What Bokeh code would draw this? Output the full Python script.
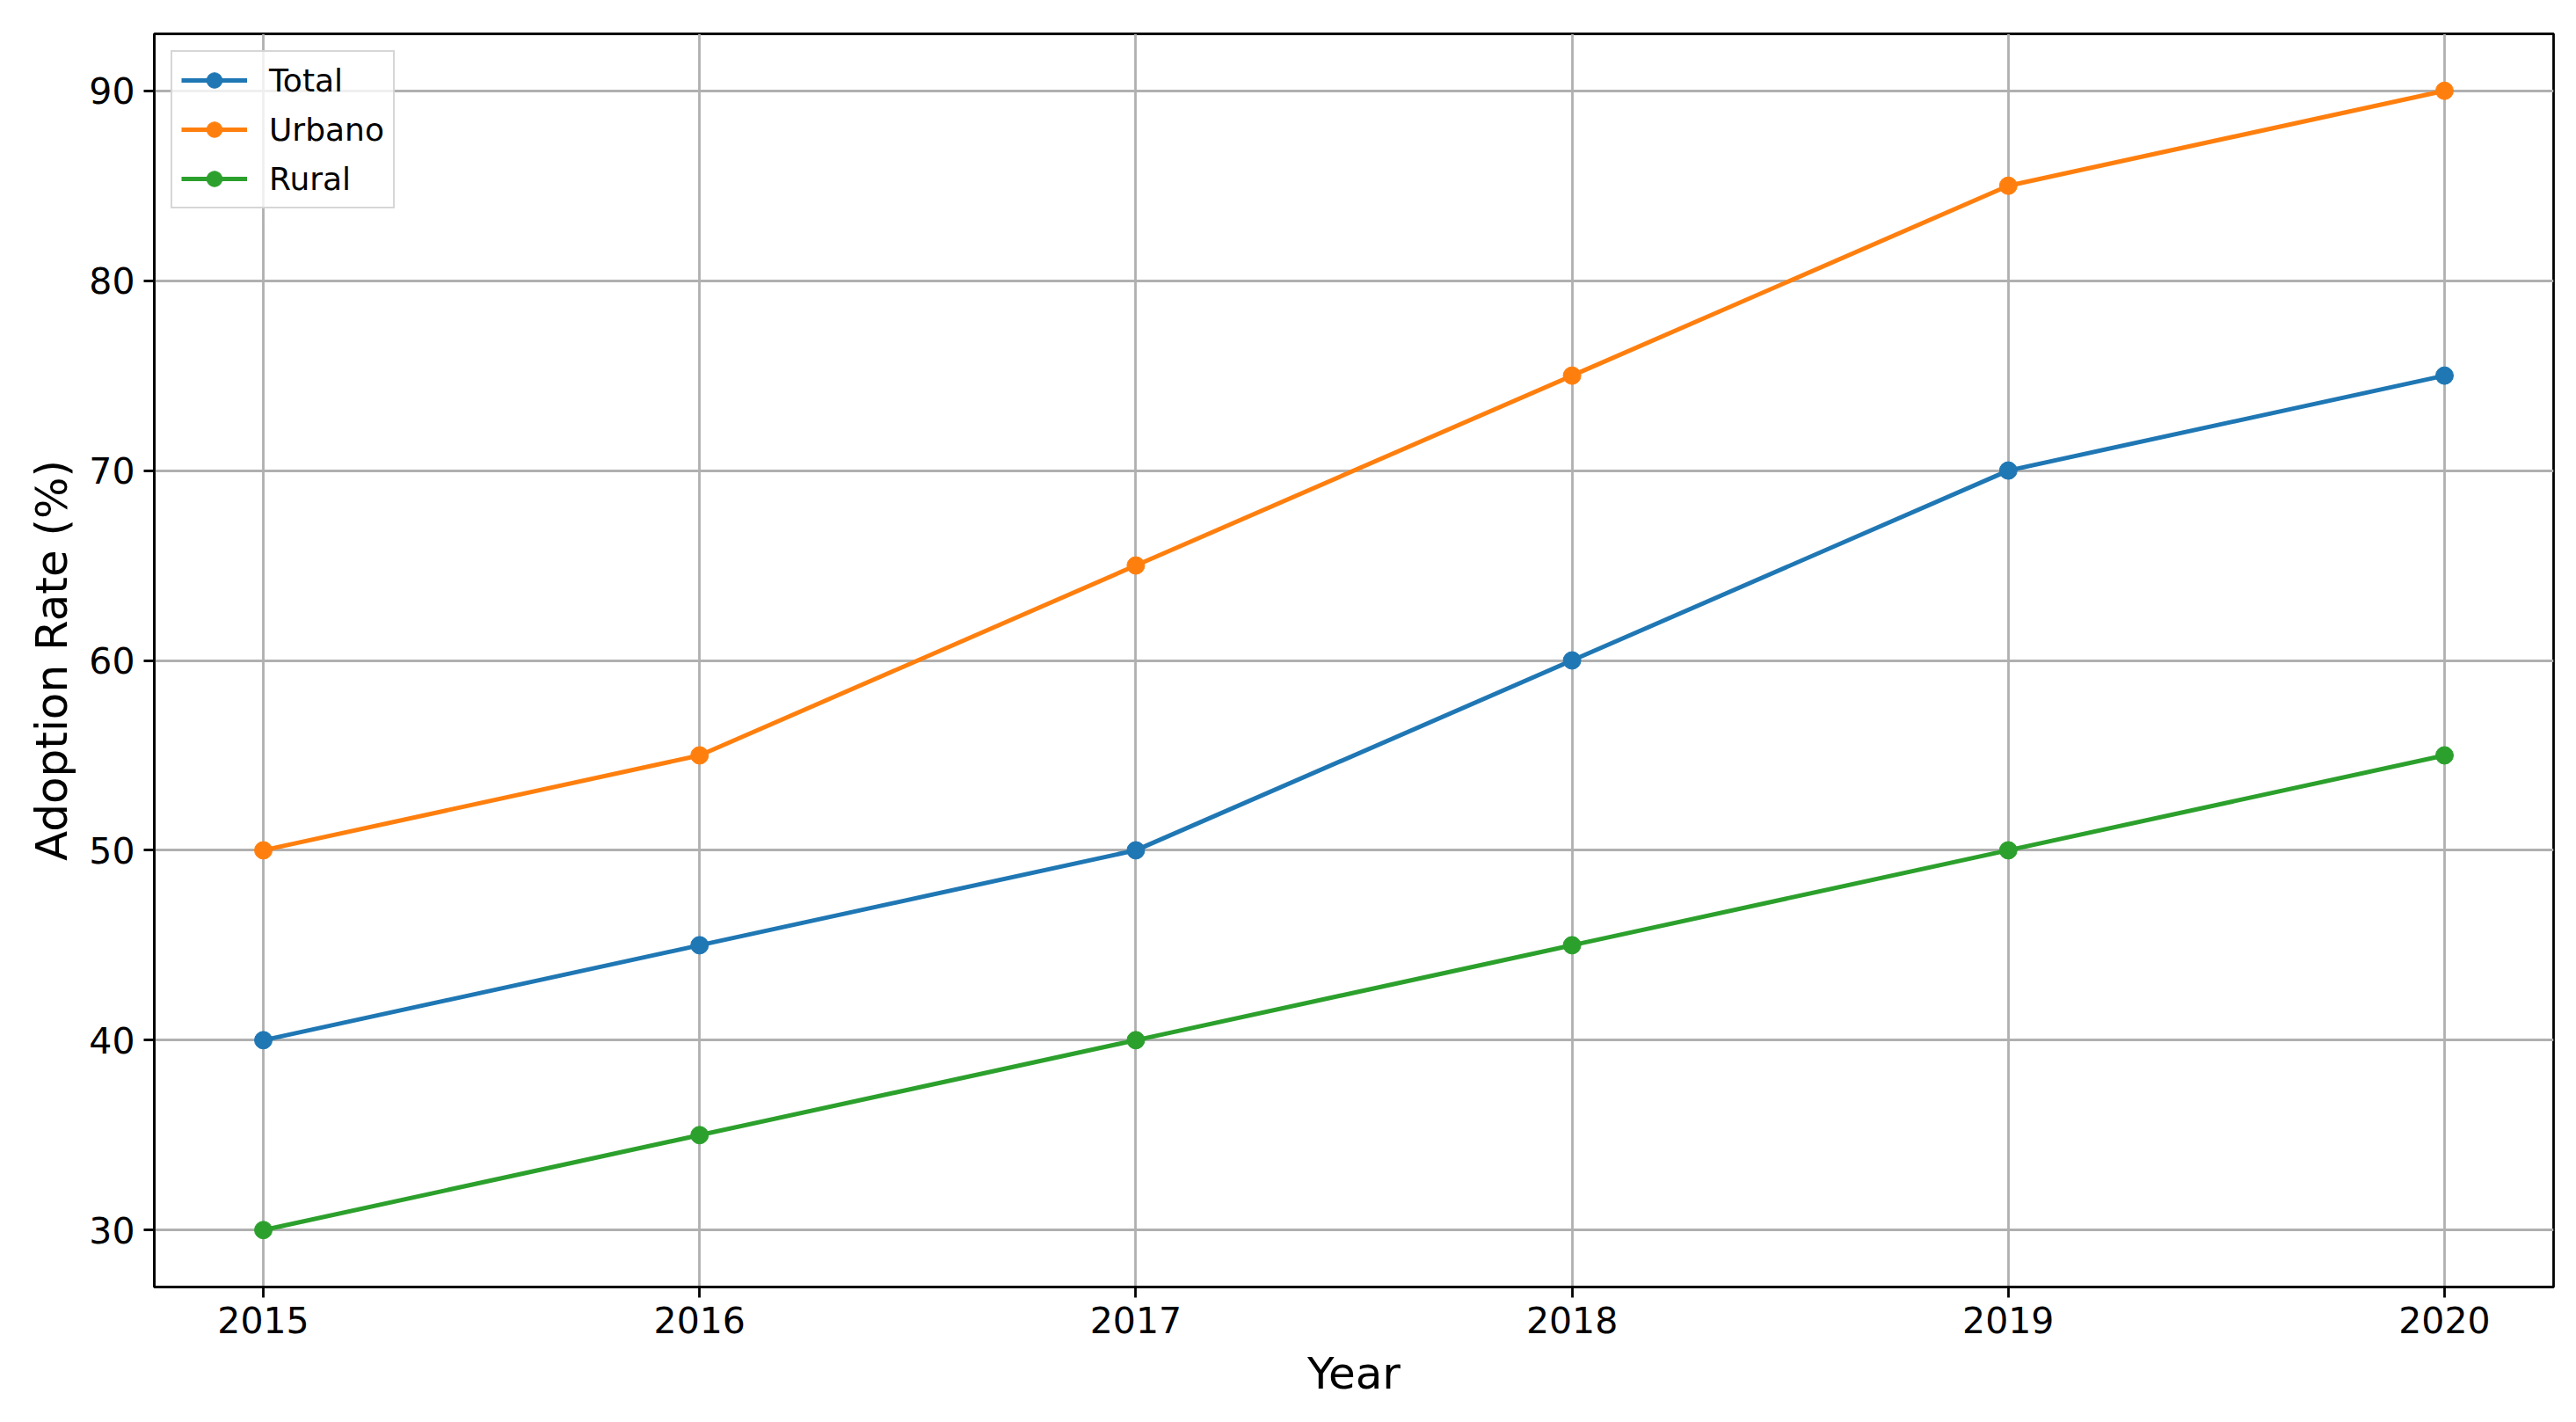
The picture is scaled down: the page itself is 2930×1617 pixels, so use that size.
from bokeh.plotting import figure
from bokeh.models import FixedTicker, Range1d
from bokeh.embed import file_html
from bokeh.resources import INLINE

years = [2015, 2016, 2017, 2018, 2019, 2020]
total = [40, 45, 50, 60, 70, 75]
urbano = [50, 55, 65, 75, 85, 90]
rural = [30, 35, 40, 45, 50, 55]
series_names = ["Total", "Urbano", "Rural"]
colors = ["#1f77b4", "#ff7f0e", "#2ca02c"]
y_ticks = [30, 40, 50, 60, 70, 80, 90]

FONT = "DejaVu Sans"

p = figure(width=2914, height=1601, output_backend="svg", toolbar_location=None,
           x_range=Range1d(2014.75, 2020.25), y_range=Range1d(27, 93),
           min_border_left=175, min_border_right=10, min_border_top=38, min_border_bottom=138)

for name, vals, c in zip(series_names, [total, urbano, rural], colors):
    p.line(years, vals, line_color=c, line_width=5, legend_label=name)
    p.scatter(years, vals, marker="circle", size=20, fill_color=c, line_color=c, legend_label=name)

p.xaxis.ticker = FixedTicker(ticks=years)
p.yaxis.ticker = FixedTicker(ticks=y_ticks)
p.xaxis.major_label_overrides = {y: str(y) for y in years}

for ax in [p.xaxis, p.yaxis]:
    ax.axis_line_color = "black"
    ax.axis_line_width = 2.8
    ax.major_tick_line_color = "black"
    ax.major_tick_line_width = 2.8
    ax.major_tick_in = 0
    ax.major_tick_out = 12
    ax.minor_tick_line_color = None
    ax.major_label_text_font = FONT
    ax.major_label_text_font_size = "41px"
    ax.major_label_text_color = "black"
    ax.axis_label_text_font = FONT
    ax.axis_label_text_font_size = "50px"
    ax.axis_label_text_font_style = "normal"
    ax.axis_label_text_color = "black"

p.xaxis.axis_label = "Year"
p.yaxis.axis_label = "Adoption Rate (%)"
p.xaxis.major_label_standoff = 10
p.yaxis.major_label_standoff = 10
p.xaxis.axis_label_standoff = 14
p.yaxis.axis_label_standoff = 10

p.grid.grid_line_color = "#b0b0b0"
p.grid.grid_line_width = 2.8

p.outline_line_color = "black"
p.outline_line_width = 2.8
p.outline_line_alpha = 1.0

p.legend.location = "top_left"
p.legend.margin = 19
p.legend.padding = 10
p.legend.spacing = 12
p.legend.glyph_width = 75
p.legend.glyph_height = 44
p.legend.label_height = 44
p.legend.label_standoff = 25
p.legend.label_text_font = FONT
p.legend.label_text_font_size = "36px"
p.legend.label_text_color = "black"
p.legend.background_fill_color = "white"
p.legend.background_fill_alpha = 0.8
p.legend.border_line_color = "#cccccc"
p.legend.border_line_alpha = 0.8
p.legend.border_line_width = 2.5

with open("out.html", "w") as f:
    f.write(file_html(p, INLINE))
